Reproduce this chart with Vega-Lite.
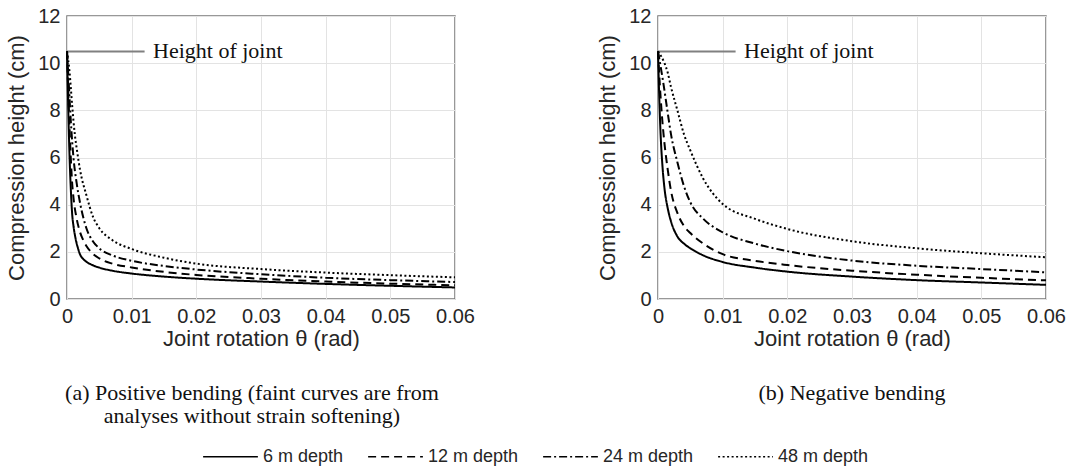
{
  "$schema": "https://vega.github.io/schema/vega-lite/v6.json",
  "datasets": {
    "pos": [
      {"d": "6 m depth", "t": 0, "h": 10.5}, {"d": "6 m depth", "t": 0.0001, "h": 9.2}, {"d": "6 m depth", "t": 0.0002, "h": 8.0}, {"d": "6 m depth", "t": 0.0004, "h": 6.0}, {"d": "6 m depth", "t": 0.0006, "h": 4.6}, {"d": "6 m depth", "t": 0.0008, "h": 3.6}, {"d": "6 m depth", "t": 0.001, "h": 3.1}, {"d": "6 m depth", "t": 0.0013, "h": 2.6}, {"d": "6 m depth", "t": 0.0017, "h": 2.15}, {"d": "6 m depth", "t": 0.002, "h": 1.9}, {"d": "6 m depth", "t": 0.0025, "h": 1.7}, {"d": "6 m depth", "t": 0.003, "h": 1.58}, {"d": "6 m depth", "t": 0.004, "h": 1.43}, {"d": "6 m depth", "t": 0.005, "h": 1.33}, {"d": "6 m depth", "t": 0.007, "h": 1.2}, {"d": "6 m depth", "t": 0.01, "h": 1.08}, {"d": "6 m depth", "t": 0.015, "h": 0.95}, {"d": "6 m depth", "t": 0.02, "h": 0.86}, {"d": "6 m depth", "t": 0.03, "h": 0.74}, {"d": "6 m depth", "t": 0.04, "h": 0.64}, {"d": "6 m depth", "t": 0.05, "h": 0.56}, {"d": "6 m depth", "t": 0.06, "h": 0.49},
      {"d": "12 m depth", "t": 0, "h": 10.5}, {"d": "12 m depth", "t": 0.0002, "h": 8.8}, {"d": "12 m depth", "t": 0.0004, "h": 7.2}, {"d": "12 m depth", "t": 0.0006, "h": 5.9}, {"d": "12 m depth", "t": 0.0008, "h": 4.9}, {"d": "12 m depth", "t": 0.001, "h": 4.3}, {"d": "12 m depth", "t": 0.0015, "h": 3.4}, {"d": "12 m depth", "t": 0.002, "h": 2.85}, {"d": "12 m depth", "t": 0.0025, "h": 2.5}, {"d": "12 m depth", "t": 0.003, "h": 2.25}, {"d": "12 m depth", "t": 0.004, "h": 1.92}, {"d": "12 m depth", "t": 0.005, "h": 1.72}, {"d": "12 m depth", "t": 0.007, "h": 1.5}, {"d": "12 m depth", "t": 0.01, "h": 1.34}, {"d": "12 m depth", "t": 0.015, "h": 1.15}, {"d": "12 m depth", "t": 0.02, "h": 1.02}, {"d": "12 m depth", "t": 0.03, "h": 0.86}, {"d": "12 m depth", "t": 0.04, "h": 0.74}, {"d": "12 m depth", "t": 0.05, "h": 0.65}, {"d": "12 m depth", "t": 0.06, "h": 0.58},
      {"d": "24 m depth", "t": 0, "h": 10.5}, {"d": "24 m depth", "t": 0.0003, "h": 9.0}, {"d": "24 m depth", "t": 0.0006, "h": 7.5}, {"d": "24 m depth", "t": 0.001, "h": 6.0}, {"d": "24 m depth", "t": 0.0015, "h": 4.9}, {"d": "24 m depth", "t": 0.002, "h": 4.1}, {"d": "24 m depth", "t": 0.003, "h": 3.0}, {"d": "24 m depth", "t": 0.004, "h": 2.45}, {"d": "24 m depth", "t": 0.005, "h": 2.15}, {"d": "24 m depth", "t": 0.007, "h": 1.85}, {"d": "24 m depth", "t": 0.01, "h": 1.62}, {"d": "24 m depth", "t": 0.015, "h": 1.4}, {"d": "24 m depth", "t": 0.02, "h": 1.25}, {"d": "24 m depth", "t": 0.03, "h": 1.05}, {"d": "24 m depth", "t": 0.04, "h": 0.9}, {"d": "24 m depth", "t": 0.05, "h": 0.8}, {"d": "24 m depth", "t": 0.06, "h": 0.72},
      {"d": "48 m depth", "t": 0, "h": 10.5}, {"d": "48 m depth", "t": 0.0004, "h": 9.6}, {"d": "48 m depth", "t": 0.0008, "h": 8.2}, {"d": "48 m depth", "t": 0.0012, "h": 7.0}, {"d": "48 m depth", "t": 0.0016, "h": 6.2}, {"d": "48 m depth", "t": 0.002, "h": 5.5}, {"d": "48 m depth", "t": 0.003, "h": 4.4}, {"d": "48 m depth", "t": 0.004, "h": 3.5}, {"d": "48 m depth", "t": 0.005, "h": 3.0}, {"d": "48 m depth", "t": 0.007, "h": 2.5}, {"d": "48 m depth", "t": 0.01, "h": 2.12}, {"d": "48 m depth", "t": 0.015, "h": 1.75}, {"d": "48 m depth", "t": 0.02, "h": 1.5}, {"d": "48 m depth", "t": 0.03, "h": 1.27}, {"d": "48 m depth", "t": 0.04, "h": 1.12}, {"d": "48 m depth", "t": 0.05, "h": 1.01}, {"d": "48 m depth", "t": 0.06, "h": 0.92}
    ],
    "neg": [
      {"d": "6 m depth", "t": 0, "h": 10.5}, {"d": "6 m depth", "t": 0.0002, "h": 8.5}, {"d": "6 m depth", "t": 0.0004, "h": 7.0}, {"d": "6 m depth", "t": 0.0007, "h": 5.6}, {"d": "6 m depth", "t": 0.001, "h": 4.7}, {"d": "6 m depth", "t": 0.0015, "h": 3.85}, {"d": "6 m depth", "t": 0.002, "h": 3.3}, {"d": "6 m depth", "t": 0.003, "h": 2.65}, {"d": "6 m depth", "t": 0.004, "h": 2.35}, {"d": "6 m depth", "t": 0.005, "h": 2.15}, {"d": "6 m depth", "t": 0.007, "h": 1.85}, {"d": "6 m depth", "t": 0.01, "h": 1.57}, {"d": "6 m depth", "t": 0.015, "h": 1.33}, {"d": "6 m depth", "t": 0.02, "h": 1.16}, {"d": "6 m depth", "t": 0.03, "h": 0.95}, {"d": "6 m depth", "t": 0.04, "h": 0.8}, {"d": "6 m depth", "t": 0.05, "h": 0.7}, {"d": "6 m depth", "t": 0.06, "h": 0.6},
      {"d": "12 m depth", "t": 0, "h": 10.5}, {"d": "12 m depth", "t": 0.0003, "h": 9.0}, {"d": "12 m depth", "t": 0.0006, "h": 7.8}, {"d": "12 m depth", "t": 0.001, "h": 6.6}, {"d": "12 m depth", "t": 0.0015, "h": 5.5}, {"d": "12 m depth", "t": 0.002, "h": 4.6}, {"d": "12 m depth", "t": 0.003, "h": 3.65}, {"d": "12 m depth", "t": 0.004, "h": 3.1}, {"d": "12 m depth", "t": 0.005, "h": 2.8}, {"d": "12 m depth", "t": 0.007, "h": 2.35}, {"d": "12 m depth", "t": 0.01, "h": 1.9}, {"d": "12 m depth", "t": 0.015, "h": 1.62}, {"d": "12 m depth", "t": 0.02, "h": 1.44}, {"d": "12 m depth", "t": 0.03, "h": 1.2}, {"d": "12 m depth", "t": 0.04, "h": 1.03}, {"d": "12 m depth", "t": 0.05, "h": 0.9}, {"d": "12 m depth", "t": 0.06, "h": 0.79},
      {"d": "24 m depth", "t": 0, "h": 10.5}, {"d": "24 m depth", "t": 0.0008, "h": 9.2}, {"d": "24 m depth", "t": 0.0015, "h": 7.9}, {"d": "24 m depth", "t": 0.002, "h": 7.0}, {"d": "24 m depth", "t": 0.003, "h": 5.8}, {"d": "24 m depth", "t": 0.004, "h": 4.8}, {"d": "24 m depth", "t": 0.005, "h": 4.1}, {"d": "24 m depth", "t": 0.007, "h": 3.4}, {"d": "24 m depth", "t": 0.01, "h": 2.83}, {"d": "24 m depth", "t": 0.015, "h": 2.35}, {"d": "24 m depth", "t": 0.02, "h": 2.03}, {"d": "24 m depth", "t": 0.03, "h": 1.63}, {"d": "24 m depth", "t": 0.04, "h": 1.41}, {"d": "24 m depth", "t": 0.05, "h": 1.27}, {"d": "24 m depth", "t": 0.06, "h": 1.13},
      {"d": "48 m depth", "t": 0, "h": 10.5}, {"d": "48 m depth", "t": 0.001, "h": 10.0}, {"d": "48 m depth", "t": 0.0015, "h": 9.6}, {"d": "48 m depth", "t": 0.002, "h": 9.0}, {"d": "48 m depth", "t": 0.003, "h": 8.0}, {"d": "48 m depth", "t": 0.004, "h": 7.0}, {"d": "48 m depth", "t": 0.005, "h": 6.3}, {"d": "48 m depth", "t": 0.007, "h": 5.1}, {"d": "48 m depth", "t": 0.01, "h": 4.03}, {"d": "48 m depth", "t": 0.015, "h": 3.4}, {"d": "48 m depth", "t": 0.02, "h": 2.97}, {"d": "48 m depth", "t": 0.03, "h": 2.45}, {"d": "48 m depth", "t": 0.04, "h": 2.15}, {"d": "48 m depth", "t": 0.05, "h": 1.94}, {"d": "48 m depth", "t": 0.06, "h": 1.77}
    ],
    "ann": [
      {"x0": 0, "x1": 0.012, "tx": 0.0133, "y": 10.5, "label": "Height of joint"}
    ]
  },
  "hconcat": [
    {
      "width": 388,
      "height": 283,
      "title": {"text": ["(a) Positive bending (faint curves are from", "analyses without strain softening)"], "dx": -9},
      "layer": [
        {"data": {"name": "ann"}, "mark": {"type": "rule", "color": "#808080", "strokeWidth": 2},
         "encoding": {"x": {"field": "x0", "type": "quantitative"}, "x2": {"field": "x1"}, "y": {"field": "y", "type": "quantitative"}}},
        {"data": {"name": "ann"}, "mark": {"type": "text", "align": "left", "baseline": "middle", "font": "Liberation Serif", "fontSize": 22, "color": "#111"},
         "encoding": {"x": {"field": "tx", "type": "quantitative"}, "y": {"field": "y", "type": "quantitative"}, "text": {"field": "label"}}},
        {"data": {"name": "pos"}, "mark": {"type": "line", "color": "black", "strokeWidth": 2, "interpolate": "monotone"},
         "encoding": {
           "x": {"field": "t", "type": "quantitative", "scale": {"domain": [0, 0.06], "nice": false}, "axis": {"values": [0, 0.01, 0.02, 0.03, 0.04, 0.05, 0.06], "format": "~g"}, "title": "Joint rotation θ (rad)"},
           "y": {"field": "h", "type": "quantitative", "scale": {"domain": [0, 12], "nice": false}, "axis": {"values": [0, 2, 4, 6, 8, 10, 12]}, "title": "Compression height (cm)"},
           "strokeDash": {"field": "d", "type": "nominal", "scale": {"domain": ["6 m depth", "12 m depth", "24 m depth", "48 m depth"], "range": [[1, 0], [8, 5], [8, 3, 2, 3], [2, 2.5]]}, "legend": {"title": null}}
         }}
      ]
    },
    {
      "width": 388,
      "height": 283,
      "title": {"text": "(b) Negative bending"},
      "layer": [
        {"data": {"name": "ann"}, "mark": {"type": "rule", "color": "#808080", "strokeWidth": 2},
         "encoding": {"x": {"field": "x0", "type": "quantitative"}, "x2": {"field": "x1"}, "y": {"field": "y", "type": "quantitative"}}},
        {"data": {"name": "ann"}, "mark": {"type": "text", "align": "left", "baseline": "middle", "font": "Liberation Serif", "fontSize": 22, "color": "#111"},
         "encoding": {"x": {"field": "tx", "type": "quantitative"}, "y": {"field": "y", "type": "quantitative"}, "text": {"field": "label"}}},
        {"data": {"name": "neg"}, "mark": {"type": "line", "color": "black", "strokeWidth": 2, "interpolate": "monotone"},
         "encoding": {
           "x": {"field": "t", "type": "quantitative", "scale": {"domain": [0, 0.06], "nice": false}, "axis": {"values": [0, 0.01, 0.02, 0.03, 0.04, 0.05, 0.06], "format": "~g"}, "title": "Joint rotation θ (rad)"},
           "y": {"field": "h", "type": "quantitative", "scale": {"domain": [0, 12], "nice": false}, "axis": {"values": [0, 2, 4, 6, 8, 10, 12]}, "title": "Compression height (cm)"},
           "strokeDash": {"field": "d", "type": "nominal", "scale": {"domain": ["6 m depth", "12 m depth", "24 m depth", "48 m depth"], "range": [[1, 0], [8, 5], [8, 3, 2, 3], [2, 2.5]]}, "legend": {"title": null}}
         }}
      ]
    }
  ],
  "spacing": 120,
  "resolve": {"legend": {"strokeDash": "shared"}},
  "config": {
    "view": {"stroke": "#777777", "strokeWidth": 1.5},
    "axis": {
      "labelFont": "Liberation Sans", "labelFontSize": 20, "labelColor": "#262626", "labelPadding": 7, "labelFlush": false,
      "titleFont": "Liberation Sans", "titleFontSize": 22, "titleFontWeight": "normal", "titleColor": "#262626",
      "gridColor": "#e3e3e3", "gridWidth": 1, "domain": false, "ticks": false
    },
    "axisX": {"titlePadding": 2},
    "axisY": {"titlePadding": 9},
    "title": {"orient": "bottom", "font": "Liberation Serif", "fontSize": 22, "fontWeight": "normal", "color": "#111", "anchor": "middle", "offset": 34, "lineHeight": 23},
    "legend": {
      "orient": "bottom", "direction": "horizontal", "symbolType": "stroke", "symbolSize": 3000,
      "symbolStrokeWidth": 1.5, "symbolStrokeColor": "black", "labelFont": "Liberation Sans", "labelFontSize": 18,
      "labelColor": "#262626", "columnPadding": 21, "labelOffset": 4, "offset": 0, "padding": 0,
      "layout": {"bottom": {"anchor": "middle"}}
    }
  }
}
